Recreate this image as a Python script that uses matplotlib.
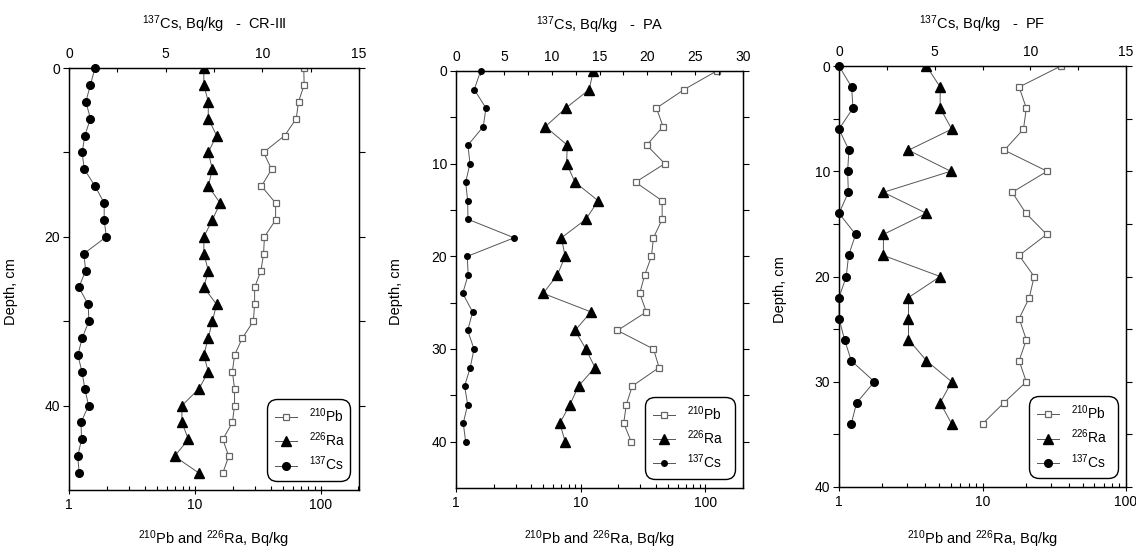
import matplotlib
matplotlib.use('Agg')
import matplotlib.pyplot as plt
from matplotlib.ticker import FixedLocator, NullFormatter, FuncFormatter, LogLocator
import numpy as np

plt.rcParams['font.family'] = ['Liberation Sans', 'DejaVu Sans']
plt.rcParams['mathtext.fontset'] = 'custom'
plt.rcParams['mathtext.rm'] = 'Liberation Sans'
plt.rcParams['mathtext.it'] = 'Liberation Sans'
plt.rcParams['font.size'] = 10


# Core CR-III, 2 cm slices
cr_depth = np.arange(0, 50, 2)
cr_cs = [1.34, 1.11, 0.87, 1.11, 0.82, 0.68, 0.79, 1.35, 1.82, 1.82, 1.93, 0.77, 0.86,
         0.51, 0.99, 1.03, 0.68, 0.46, 0.67, 0.82, 1.01, 0.62, 0.65, 0.45, 0.53]
cr_ra = [11.8, 11.8, 12.8, 12.8, 14.9, 12.8, 13.8, 12.8, 15.9, 13.8, 11.8, 11.8, 12.8,
         11.8, 14.9, 13.8, 12.8, 11.8, 12.8, 10.8, 7.9, 7.9, 8.9, 6.9, 10.8]
cr_pb = [73.5, 74.0, 66.8, 64.0, 51.9, 35.2, 40.8, 33.9, 43.9, 43.9, 35.8, 35.2, 33.6,
         29.9, 29.9, 29.2, 23.9, 20.7, 19.9, 20.7, 20.7, 19.9, 16.7, 18.6, 16.7]

# Core PA
pa_depth = np.arange(0, 42, 2)
pa_cs = [2.57, 1.91, 3.13, 2.85, 1.25, 1.46, 1.01, 1.22, 1.25, 6.08, 1.18, 1.27,
         0.70, 1.74, 1.22, 1.88, 1.49, 0.90, 1.22, 0.76, 1.01]
pa_ra = [12.6, 11.7, 7.6, 5.2, 7.8, 7.7, 9.0, 13.8, 11.0, 7.0, 7.5, 6.5,
         5.0, 12.1, 9.0, 11.0, 13.0, 9.6, 8.2, 6.8, 7.5]
pa_pb = [123, 67.4, 40.5, 45.7, 33.8, 47.2, 27.5, 44.9, 45.0, 38.3, 36.9, 32.6,
         29.7, 33.6, 19.7, 38.3, 42.5, 25.9, 23.2, 22.1, 25.4]

# Core PF
pf_depth = np.arange(0, 36, 2)
pf_cs = [0, 0.66, 0.73, 0, 0.52, 0.45, 0.49, 0, 0.87, 0.50, 0.38,
         0, 0, 0.29, 0.64, 1.85, 0.92, 0.64]
pf_ra = [4.07, 5.07, 5.07, 6.1, 3.05, 6.0, 2.04, 4.07, 2.04, 2.04, 5.07,
         3.05, 3.05, 3.05, 4.07, 6.1, 5.07, 6.1]
pf_pb = [35.2, 18.0, 20.2, 19.3, 14.2, 28.2, 16.1, 20.1, 28.0, 18.0, 22.9,
         21.2, 18.0, 20.2, 18.0, 20.2, 14.1, 10.0]

W, H = 1136, 551
fig = plt.figure(figsize=(W / 100, H / 100), dpi=100)


def px_rect(left, right, top, bottom):
    return [left / W, 1 - bottom / H, (right - left) / W, (bottom - top) / H]


def panel(rect, name, depth, cs, ra, pb, ymax, ymaj, ymin, xmax, csmax, cs_ms,
          ylab_x, title_y, leg_box):
    ax = fig.add_axes(rect)
    ax.set_xscale('log')
    ax.set_xlim(1, xmax)
    ax.set_ylim(ymax, 0)

    line_kw = dict(color='#555555', lw=0.7)
    l_pb, = ax.plot(pb, depth, marker='s', ms=4.5, mfc='white', mec='#666666',
                    mew=0.9, **line_kw)
    l_ra, = ax.plot(ra, depth, marker='^', ms=6.5, mfc='black', mec='black',
                    **line_kw)

    ax2 = ax.twiny()
    ax2.set_xlim(0, csmax)
    l_cs, = ax2.plot(cs, depth, marker='o', ms=cs_ms, mfc='black', mec='black',
                     clip_on=False, **line_kw)

    for a in (ax, ax2):
        for sp in a.spines.values():
            sp.set_linewidth(0.9)

    # bottom log axis
    ax.xaxis.set_major_locator(LogLocator(base=10))
    ax.xaxis.set_minor_locator(LogLocator(base=10, subs=np.arange(2, 10)))
    ax.xaxis.set_major_formatter(FuncFormatter(lambda v, p: f'{v:g}'))
    ax.xaxis.set_minor_formatter(NullFormatter())
    ax.tick_params(axis='x', which='major', direction='inout', length=6,
                   width=0.8, pad=3)
    ax.tick_params(axis='x', which='minor', direction='in', length=3, width=0.8)

    # depth axis
    ax.yaxis.set_major_locator(FixedLocator(ymaj))
    ax.yaxis.set_minor_locator(FixedLocator(ymin))
    ax.tick_params(axis='y', which='both', direction='out', left=True, right=True,
                   length=4.5, width=0.8, pad=2)
    ax.set_ylabel('Depth, cm', fontsize=10.5)
    ax.yaxis.set_label_coords(ylab_x, 0.47)

    # top linear Cs axis
    ax2.xaxis.set_major_locator(FixedLocator(np.arange(0, csmax + 0.1, 5)))
    ax2.xaxis.set_minor_locator(FixedLocator(np.arange(2.5, csmax, 5)))
    ax2.xaxis.set_major_formatter(FuncFormatter(lambda v, p: f'{v:g}'))
    ax2.tick_params(axis='x', which='both', direction='in', length=3, width=0.8,
                    pad=5)

    cx = rect[0] + rect[2] / 2
    fig.text(cx, title_y, r'$^{137}$Cs, Bq/kg   -  ' + name, ha='center',
             va='center', fontsize=10.5)
    fig.text(cx, 0.022, r'$^{210}$Pb and $^{226}$Ra, Bq/kg', ha='center',
             va='center', fontsize=10.5)

    leg = ax2.legend([l_pb, l_ra, l_cs],
                     [r'$^{210}$Pb', r'$^{226}$Ra', r'$^{137}$Cs'],
                     loc='lower left', bbox_to_anchor=leg_box, mode='expand',
                     borderaxespad=0, numpoints=1, handlelength=1.6,
                     handletextpad=0.9, labelspacing=0.4, borderpad=0.55,
                     fontsize=10, frameon=True, fancybox=True)
    fr = leg.get_frame()
    fr.set_edgecolor('black')
    fr.set_linewidth(1.0)
    fr.set_alpha(1)
    fr.set_boxstyle('round,pad=0,rounding_size=0.7')
    return ax, ax2


panel(px_rect(69, 359, 68, 490), 'CR-III', cr_depth, cr_cs, cr_ra, cr_pb,
      50, [0, 20, 40], [10, 30], 202, 15, 5.5, -0.176, 1 - 24 / H,
      (0.683, 0.021, 0.286, 0.18))
panel(px_rect(456, 743, 71, 488), 'PA', pa_depth, pa_cs, pa_ra, pa_pb,
      45, [0, 10, 20, 30, 40], [5, 15, 25, 35], 200, 30, 4.0, -0.185, 1 - 25 / H,
      (0.659, 0.022, 0.313, 0.17))
panel(px_rect(839, 1126, 66, 487), 'PF', pf_depth, pf_cs, pf_ra, pf_pb,
      40, [0, 10, 20, 30, 40], [5, 15, 25, 35], 100, 15, 5.5, -0.181, 1 - 24 / H,
      (0.662, 0.021, 0.31, 0.18))

fig.savefig('out.png', dpi=100)
